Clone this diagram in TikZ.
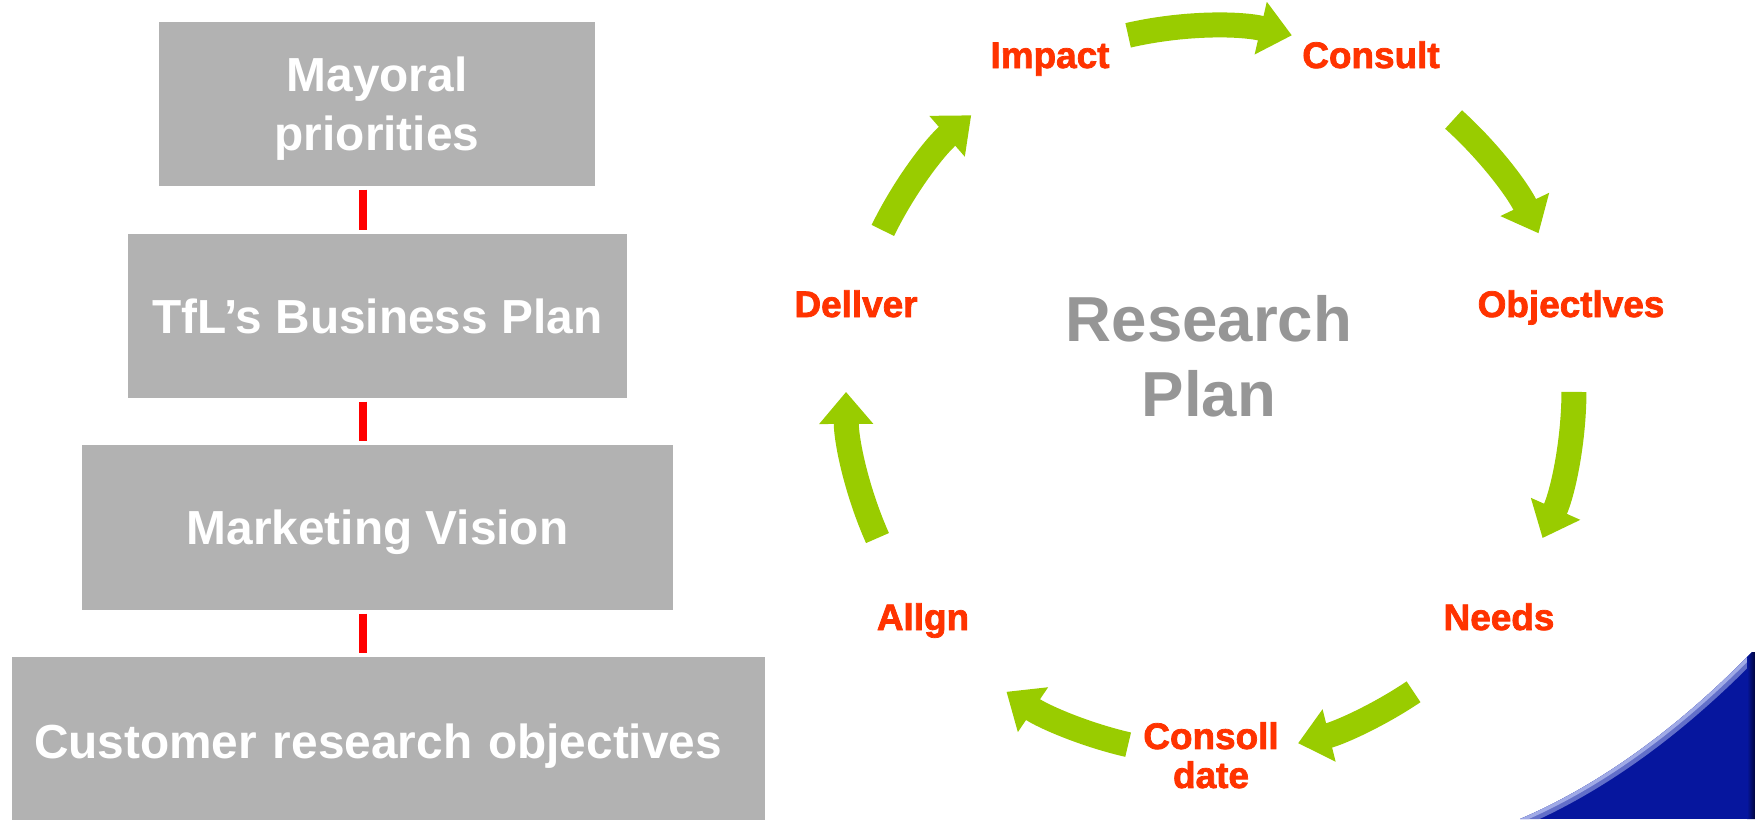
\documentclass[tikz,border=0pt]{standalone}
\usepackage{fontspec}
\setmainfont{Liberation Sans}
\newfontfamily\cyclefont{Liberation Sans Bold}[FakeBold=2]
\usetikzlibrary{positioning,arrows.meta}

\definecolor{tiergray}{RGB}{178,178,178}
\definecolor{linkred}{RGB}{255,0,0}
\definecolor{labelred}{RGB}{255,51,0}
\definecolor{arrowgreen}{RGB}{153,204,0}
\definecolor{plangray}{RGB}{150,150,150}
\definecolor{cornerblue}{RGB}{6,22,158}
\definecolor{cornerdark}{RGB}{0,4,60}
\definecolor{cornerglow}{RGB}{160,170,230}

\begin{document}
\begin{tikzpicture}[
	tier/.style={fill=tiergray, text=white, inner sep=0pt, align=center, text depth=0pt,
		font=\fontsize{13.6}{16.8}\selectfont\bfseries},
	redlink/.style={linkred, line width=0.08cm, shorten <=0.03cm, shorten >=0.03cm},
	steplabel/.style={labelred, inner sep=0pt, align=center,
		font=\fontsize{10.5}{11.1}\selectfont\cyclefont},
	cyclearrow/.style={arrowgreen, line width=0.25cm,
		-{Triangle[width=0.52cm,length=0.32cm]}}
]
	\useasboundingbox (0, 0) rectangle (17.55, 8.19);

	\node[tier, minimum width=4.36cm, minimum height=1.64cm] (mayor) at (3.77, 7.15) {Mayoral\\priorities};
	\node[tier, minimum width=4.99cm, minimum height=1.64cm] (business) at (3.775, 5.03) {TfL’s Business Plan};
	\node[tier, minimum width=5.91cm, minimum height=1.65cm] (vision) at (3.775, 2.915) {Marketing Vision};
	\node[tier, minimum width=7.53cm, minimum height=1.69cm,
		text width=7.09cm, inner xsep=0.22cm, align=left] (objectives) at (3.885, 0.775) {Customer research objectives};

	\coordinate (spine) at (3.63, 0);
	\draw[redlink] (mayor.south -| spine) -- (business.north -| spine);
	\draw[redlink] (business.south -| spine) -- (vision.north -| spine);
	\draw[redlink] (vision.south -| spine) -- (objectives.north -| spine);

	% cycle
	\coordinate (hub) at (12.10, 4.29);
	\draw[cyclearrow] ([shift={(103:3.64)}]hub) arc[start angle=103, end angle=77, radius=3.64];
	\draw[cyclearrow] ([shift={(48:3.64)}]hub) arc[start angle=48, end angle=25.5, radius=3.64];
	\draw[cyclearrow] ([shift={(-0.3:3.64)}]hub) arc[start angle=-0.3, end angle=-24, radius=3.64];
	\draw[cyclearrow] ([shift={(-56:3.64)}]hub) arc[start angle=-56, end angle=-76, radius=3.64];
	\draw[cyclearrow] ([shift={(-103:3.64)}]hub) arc[start angle=-103, end angle=-124, radius=3.64];
	\draw[cyclearrow] ([shift={(204:3.64)}]hub) arc[start angle=204, end angle=180.3, radius=3.64];
	\draw[cyclearrow] ([shift={(154:3.64)}]hub) arc[start angle=154, end angle=131, radius=3.64];

	\node[steplabel, anchor=base] (impact) at (10.50, 7.51) {Impact};
	\node[steplabel, anchor=base] (consult) at (13.71, 7.51) {Consult};
	\node[steplabel, anchor=base] (aims) at (15.71, 5.02) {Objectlves};
	\node[steplabel, anchor=base] (needs) at (14.99, 1.89) {Needs};
	\node[steplabel, anchor=north] (consolidate) at (12.11, 0.975) {Consoll\\date};
	\node[steplabel, anchor=base] (aligning) at (9.23, 1.89) {Allgn};
	\node[steplabel, anchor=base] (deliver) at (8.56, 5.02) {Dellver};

	\node[plangray, anchor=north, inner sep=0pt, align=center,
		font=\fontsize{18.1}{21.3}\selectfont\bfseries] (plan) at (12.09, 5.24) {Research\\Plan};

	% corner swoosh
	\begin{scope}
		\clip (15.20, 0) .. controls (15.97, 0.33) and (16.75, 0.88) .. (17.52, 1.67)
			-- (17.55, 1.67) -- (17.55, 0) -- cycle;
		\fill[cornerblue] (15.0, 0) rectangle (17.55, 1.8);
		\draw[cornerglow!60!cornerblue, line width=0.16cm] (15.20, 0) .. controls (15.97, 0.33) and (16.75, 0.88) .. (17.52, 1.67);
		\draw[cornerglow, line width=0.07cm] (15.20, 0) .. controls (15.97, 0.33) and (16.75, 0.88) .. (17.52, 1.67);
		\shade[left color=cornerblue, right color=cornerdark] (17.47, 0) rectangle (17.55, 1.8);
	\end{scope}
\end{tikzpicture}
\end{document}
